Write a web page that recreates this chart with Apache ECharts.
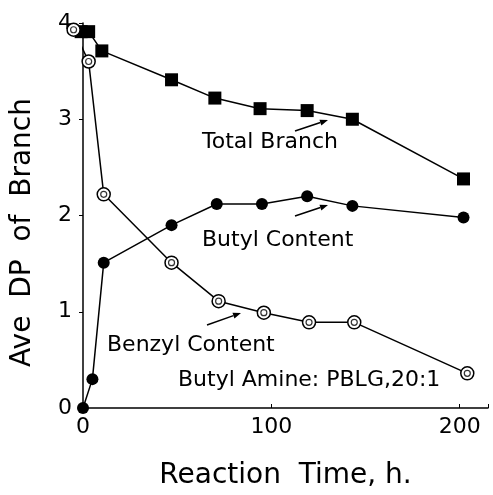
<!DOCTYPE html>
<html><head><meta charset="utf-8">
<script src="https://cdn.jsdelivr.net/npm/echarts@6/dist/echarts.min.js"></script>
<style>html,body{margin:0;padding:0;background:#fff}#c{width:493px;height:495px}</style>
</head><body><div id="c"></div>
<script>
var totalX = [-1, 3, 10, 47, 70, 94, 119, 143, 202];
var totalY = [3.91, 3.91, 3.71, 3.41, 3.22, 3.11, 3.09, 3.0, 2.38];
var butylX = [0, 5, 11, 47, 71, 95, 119, 143, 202];
var butylY = [0, 0.30, 1.51, 1.90, 2.12, 2.12, 2.20, 2.10, 1.98];
var benzylX = [-5, 3, 11, 47, 72, 96, 120, 144, 204];
var benzylY = [3.93, 3.60, 2.22, 1.51, 1.11, 0.99, 0.89, 0.89, 0.36];
var xTicks = [0, 100, 200];
var yTicks = [0, 1, 2, 3, 4];

function pts(xs, ys){ return xs.map(function(x,i){return [x, ys[i]];}); }
var FONT = 'DejaVu Sans';
var chart = echarts.init(document.getElementById('c'), null, {renderer:'canvas'});
function arrow(x1,y1,x2,y2){
  var a = Math.atan2(y2-y1, x2-x1), L=8, w=3;
  var bx = x2 - L*Math.cos(a), by = y2 - L*Math.sin(a);
  return [
    {type:'line', shape:{x1:x1,y1:y1,x2:bx,y2:by}, style:{stroke:'#000', lineWidth:1.5}},
    {type:'polygon', shape:{points:[[x2,y2],[bx - w*Math.sin(a), by + w*Math.cos(a)],[bx + w*Math.sin(a), by - w*Math.cos(a)]]}, style:{fill:'#000'}}
  ];
}
function label(t,x,y,size){ return {type:'text', x:x, y:y, style:{text:t, font:'normal '+size+'px '+FONT, fill:'#000', verticalAlign:'middle', align:'left'}}; }
var graphics = [
  label('Total Branch', 202, 142, 22),
  label('Butyl Content', 202, 240, 22),
  label('Benzyl Content', 107, 345, 22),
  label('Butyl Amine: PBLG,20:1', 178, 380, 22)
].concat(arrow(295,131,328,120)).concat(arrow(295,216,328,205)).concat(arrow(207,325,241,313));

chart.setOption({
  animation:false,
  backgroundColor:'#fff',
  grid:{left:83, top:23, width:405, height:388},
  xAxis:{type:'value', min:0, max:215, interval:100,
    axisLine:{onZero:false, lineStyle:{color:'#000', width:1.5}},
    axisTick:{show:true, length:4, inside:true, lineStyle:{color:'#000'}},
    splitLine:{show:false},
    axisLabel:{color:'#000', fontSize:22, fontFamily:FONT, margin:8,
      formatter:function(v){return xTicks.indexOf(v)>=0 ? String(v) : '';}},
    name:'Reaction  Time, h.', nameLocation:'middle', nameGap:54,
    nameTextStyle:{color:'#000', fontSize:28, fontFamily:FONT}
  },
  yAxis:{type:'value', min:0, max:4, interval:1,
    axisLine:{onZero:false, lineStyle:{color:'#000', width:1.5}},
    axisTick:{show:true, length:4, lineStyle:{color:'#000'}},
    splitLine:{show:false},
    axisLabel:{color:'#000', fontSize:22, fontFamily:FONT, margin:11,
      formatter:function(v){return yTicks.indexOf(v)>=0 ? String(v) : '';}},
    name:'Ave  DP  of  Branch', nameLocation:'middle', nameGap:46,
    nameTextStyle:{color:'#000', fontSize:28, fontFamily:FONT, padding:[0,34,0,0]}
  },
  graphic: graphics,
  series:[
    {type:'line', data:pts(totalX,totalY), symbol:'rect', symbolSize:13, clip:false,
     lineStyle:{color:'#000', width:1.5}, itemStyle:{color:'#000'}, z:3},
    {type:'line', data:pts(butylX,butylY), symbol:'circle', symbolSize:12, clip:false,
     lineStyle:{color:'#000', width:1.5}, itemStyle:{color:'#000'}, z:3},
    {type:'line', data:pts(benzylX,benzylY), symbol:'circle', symbolSize:13, clip:false,
     lineStyle:{color:'#000', width:1.5}, itemStyle:{color:'#fff', borderColor:'#000', borderWidth:1.5}, z:4},
    {type:'scatter', data:pts(benzylX,benzylY), symbol:'circle', symbolSize:6, clip:false,
     itemStyle:{color:'#fff', borderColor:'#000', borderWidth:1.2}, z:5}
  ]
});
</script></body></html>
